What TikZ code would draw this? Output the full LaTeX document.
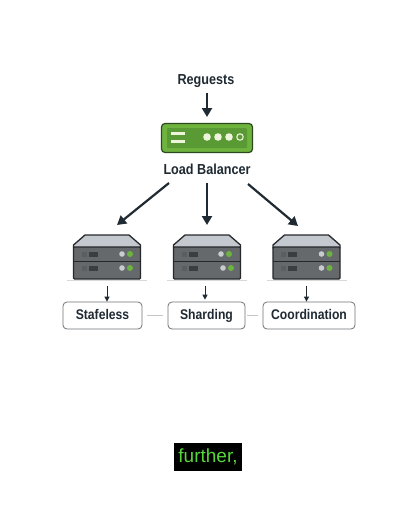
\documentclass[tikz,border=0pt]{standalone}
\usepackage{fontspec}
\setmainfont{Liberation Sans}
\newfontfamily\condfont[FakeStretch=0.87]{Liberation Sans}
\usetikzlibrary{arrows.meta}
\definecolor{ink}{HTML}{1F2A33}
\definecolor{lbgreen}{HTML}{6FB33F}
\definecolor{lbdark}{HTML}{5A9A34}
\definecolor{lbedge}{HTML}{2C4A1E}
\definecolor{cream}{HTML}{EEF3DC}
\definecolor{srvbody}{HTML}{65696C}
\definecolor{srvedge}{HTML}{25292C}
\definecolor{srvtop}{HTML}{C3C9CE}
\definecolor{ledg}{HTML}{6DB33F}
\definecolor{ledw}{HTML}{C9CCCE}
\definecolor{slot}{HTML}{3A3E41}
\definecolor{slotl}{HTML}{5A5E61}
\definecolor{tagedge}{HTML}{6E7376}
\definecolor{linkgrey}{HTML}{C4C7C9}
\definecolor{shadowg}{HTML}{D9DAD8}
\definecolor{termgreen}{HTML}{55D63A}
\tikzset{
  x=1pt,y=-1pt,
  lbl/.style={font=\condfont\bfseries\fontsize{14.5}{16}\selectfont,text=ink,inner sep=0pt},
  tag/.style={draw=tagedge,line width=.8pt,rounded corners=4pt,fill=white,minimum height=27pt,inner sep=0pt,text height=10pt,text depth=3pt,font=\condfont\bfseries\fontsize{14}{16}\selectfont,text=ink},
  bigarrow/.style={draw=ink,line width=2.2pt,-{Triangle[length=9pt,width=10pt]}},
  smallarrow/.style={draw=ink,line width=1pt,-{Triangle[length=5pt,width=5pt]}},
  link/.style={draw=linkgrey,line width=.8pt},
  srv/.style={draw=srvedge,line width=1.3pt,fill=srvbody,minimum width=67pt,minimum height=32pt,inner sep=0pt,rounded corners=1pt},
}
\newcommand{\serverat}[5]{% name, centre x, led shift upper, led shift lower, slot shift
  \fill[shadowg] (#2-40,279.5) rectangle (#2+40,280.6);
  \draw[srvedge,line width=1.3pt,fill=srvtop,line join=round] (#2-33.5,248) -- (#2-33.5,245) -- (#2-22,235) -- (#2+22,235) -- (#2+33.5,245) -- (#2+33.5,248) -- cycle;
  \node[srv] (#1) at (#2,263) {};
  \draw[srvedge,line width=.9pt] (#2-33.5,261.5) -- (#2+33.5,261.5);
  \foreach \yy/\ss in {254/#3,268/#4}{
    \fill[slotl] (#2-25+#5,\yy-2.5) rectangle (#2-20+#5,\yy+2.5);
    \fill[slot] (#2-18+#5,\yy-2.5) rectangle (#2-9+#5,\yy+2.5);
    \fill[ledw] (#2+\ss+15,\yy) circle (2.8);
    \fill[ledg] (#2+\ss+23,\yy) circle (3);
  }
}
\begin{document}
\begin{tikzpicture}
\useasboundingbox (0,0) rectangle (416,520);
\fill[white] (0,0) rectangle (416,520);

\node[lbl] (req) at (206,81) {Reguests};

% load balancer
\node[draw=lbedge,line width=1.2pt,fill=lbgreen,rounded corners=3.5pt,minimum width=91pt,minimum height=29pt,inner sep=0pt] (lb) at (207,138) {};
\fill[lbdark,rounded corners=1pt] (167,128) rectangle (247,148);
\fill[cream] (171,131.5) rectangle (185,134.5);
\fill[cream] (171,140) rectangle (185,143);
\fill[cream] (207,137) circle (3.8);
\fill[cream] (218,137) circle (3.8);
\fill[cream] (229,137) circle (3.8);
\draw[cream,line width=1.1pt] (240,137) circle (3.2);

\node[lbl] (lbtext) at (207,169.5) {Load Balancer};

\draw[bigarrow] (lb.north |- 0,93) coordinate (r0) -- (lb.north |- 0,117) coordinate (r1);

\serverat{s1}{107}{0}{0}{0}
\serverat{s2}{207}{-1}{1}{0}
\serverat{s3}{306.5}{0}{0}{-1}

\coordinate (a1) at (169,183);
\coordinate (a2) at (207,183);
\coordinate (a3) at (248,184);
\draw[bigarrow] (a1) -- (117,225);
\draw[bigarrow] (a2) -- (s2.north |- 0,225);
\draw[bigarrow] (a3) -- (298,226);

\node[tag,minimum width=79pt] (t1) at (102.5,315.5) {Stafeless};
\node[tag,minimum width=77pt] (t2) at (206.5,315.5) {Sharding};
\node[tag,minimum width=92pt] (t3) at (309,315.5) {Coordination};

\draw[smallarrow] (s1.south)++(0,6) coordinate (b1) -- (s1.south |- t1.north);
\draw[smallarrow] (s2.south)++(-2,6) coordinate (b2) -- ++(0,14);
\draw[smallarrow] (s3.south)++(0,6) coordinate (b3) -- (s3.south |- t3.north);

\draw[link] ([xshift=5pt]t1.east) -- ([xshift=-5pt]t2.west);
\draw[link] ([xshift=2pt]t2.east) -- ([xshift=-5pt]t3.west);

\node[fill=black,minimum width=68pt,minimum height=28pt,inner sep=0pt,text=termgreen,font=\fontsize{19}{21}\selectfont] (term) at (208,457) {further,};
\end{tikzpicture}
\end{document}
